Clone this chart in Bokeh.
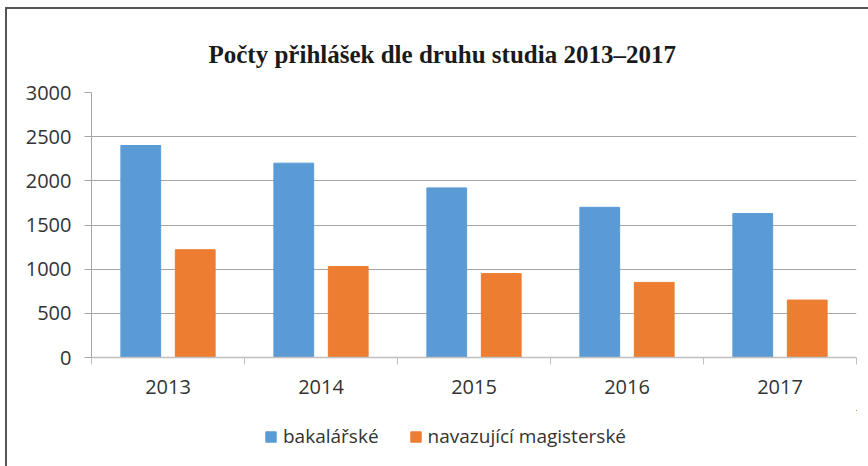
import numpy as np
from bokeh.plotting import figure
from bokeh.layouts import column
from bokeh.models import (Range1d, FixedTicker, Legend, LegendItem, Title)
from bokeh.embed import file_html
from bokeh.resources import INLINE

years = ["2013", "2014", "2015", "2016", "2017"]
bakalarske = [2400, 2200, 1920, 1700, 1630]
magisterske = [1220, 1030, 950, 850, 650]
y_ticks = [0, 500, 1000, 1500, 2000, 2500, 3000]
series_names = ["bakalářské", "navazující magisterské"]
colors = ["#5B9BD5", "#ED7D31"]

W = 861
H1, H2 = 401, 56
p = figure(width=W, height=H1, output_backend="svg", toolbar_location=None,
           x_range=Range1d(0, len(years)), y_range=Range1d(0, 3000),
           min_border_left=84, min_border_right=12, min_border_top=83,
           min_border_bottom=53)
p.title = None
p.outline_line_color = None
p.background_fill_color = "white"
p.border_fill_color = "white"

centers = np.arange(len(years)) + 0.5
off = 0.178
bw = 0.26
r1 = p.vbar(x=centers - off, top=bakalarske, width=bw, bottom=0,
            fill_color=colors[0], line_color=colors[0])
r2 = p.vbar(x=centers + off, top=magisterske, width=bw, bottom=0,
            fill_color=colors[1], line_color=colors[1])

# title
t = Title(text="Počty přihlášek dle druhu studia 2013–2017", align="left",
          text_font="Liberation Serif", text_font_size="25px",
          text_font_style="bold", text_color="#1a1a1a", offset=117,
          standoff=49)
p.add_layout(t, "above")

# x axis
xa = p.xaxis[0]
xa.ticker = FixedTicker(ticks=list(centers), minor_ticks=list(range(len(years) + 1)))
xa.major_label_overrides = {float(c): y for c, y in zip(centers, years)}
xa.major_tick_out = 0
xa.major_tick_in = 0
xa.minor_tick_out = 7
xa.minor_tick_in = 0
xa.minor_tick_line_color = "#bfbfbf"
xa.axis_line_color = "#bfbfbf"
xa.axis_line_width = 1.5
xa.major_label_text_font = "Open Sans"
xa.major_label_text_font_size = "20px"
xa.major_label_text_color = "#333333"
xa.major_label_standoff = 15

# y axis
ya = p.yaxis[0]
ya.ticker = FixedTicker(ticks=y_ticks)
ya.major_tick_out = 7
ya.major_tick_in = 0
ya.minor_tick_line_color = None
ya.major_tick_line_color = "#a6a6a6"
ya.axis_line_color = "#a6a6a6"
ya.major_label_text_font = "Open Sans"
ya.major_label_text_font_size = "20px"
ya.major_label_text_color = "#333333"
ya.major_label_standoff = 13

p.xgrid.grid_line_color = None
p.ygrid.grid_line_color = "#a6a6a6"
p.ygrid.grid_line_width = 1.2
p.ygrid.ticker = FixedTicker(ticks=y_ticks)

# legend strip (its own copies of the series, kept outside its visible ranges)
q = figure(width=W, height=H2, output_backend="svg", toolbar_location=None,
           x_axis_location=None, y_axis_location=None,
           x_range=Range1d(-20, -19), y_range=Range1d(-20, -19),
           min_border_left=0, min_border_right=0, min_border_top=0,
           min_border_bottom=0)
q.outline_line_color = None
q.xgrid.visible = False
q.ygrid.visible = False
l1 = q.vbar(x=centers - off, top=bakalarske, width=bw, bottom=0,
            fill_color=colors[0], line_color=colors[0])
l2 = q.vbar(x=centers + off, top=magisterske, width=bw, bottom=0,
            fill_color=colors[1], line_color=colors[1])
legend = Legend(items=[LegendItem(label=series_names[0], renderers=[l1]),
                       LegendItem(label=series_names[1], renderers=[l2])],
                orientation="horizontal", location=(173, 17),
                label_text_font="Open Sans", label_text_font_size="19px",
                label_text_color="#333333", glyph_width=13, glyph_height=13,
                label_standoff=6, spacing=30, padding=0, margin=0,
                border_line_color=None, background_fill_alpha=0)
q.add_layout(legend, "center")

layout = column(p, q, spacing=0)
layout.styles = {"border-left": "2px solid #555555", "border-top": "2px solid #555555",
                 "margin-left": "5px", "margin-top": "7px"}

open("out.html", "w").write(file_html(layout, INLINE))
